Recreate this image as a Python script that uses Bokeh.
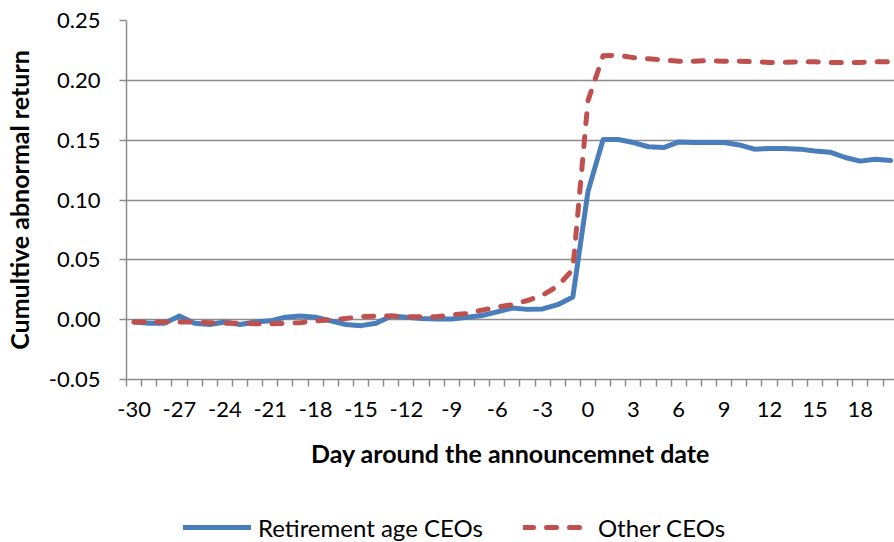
from bokeh.plotting import figure
from bokeh.layouts import column
from bokeh.models import FixedTicker, Legend, LegendItem, Range1d
from bokeh.embed import file_html
from bokeh.resources import INLINE

# ---- data ----
days = list(range(-30, 21))
retirement_age_ceos = [
    -0.002, -0.003, -0.003, 0.003, -0.003, -0.004, -0.002, -0.004, -0.002, -0.001,
    0.002, 0.003, 0.002, -0.001, -0.004, -0.005, -0.003, 0.003, 0.002, 0.001,
    0.0005, 0.0005, 0.002, 0.0035, 0.0065, 0.0097, 0.0086, 0.009, 0.0125, 0.019,
    0.107,
    0.1505, 0.1505, 0.148, 0.1445, 0.1438, 0.1485, 0.148, 0.148, 0.148, 0.146,
    0.1425, 0.143, 0.143, 0.1425, 0.141, 0.140, 0.1355, 0.1325, 0.134, 0.133,
]
other_ceos = [
    -0.002, -0.002, -0.002, -0.002, -0.002, -0.0025, -0.003, -0.003, -0.0035, -0.0035,
    -0.003, -0.0025, -0.001, 0.000, 0.001, 0.0025, 0.003, 0.003, 0.0025, 0.0025,
    0.0025, 0.004, 0.005, 0.008, 0.0105, 0.0125, 0.016, 0.0205, 0.028, 0.042,
    0.183,
    0.2205, 0.221, 0.219, 0.218, 0.217, 0.216, 0.216, 0.2165, 0.216, 0.216,
    0.2155, 0.215, 0.215, 0.2155, 0.2155, 0.215, 0.215, 0.215, 0.2155, 0.2155,
]
x_tick_values = [-30, -27, -24, -21, -18, -15, -12, -9, -6, -3, 0, 3, 6, 9, 12, 15, 18]
x_tick_labels = ["-30", "-27", "-24", "-21", "-18", "-15", "-12", "-9", "-6", "-3",
                 "0", "3", "6", "9", "12", "15", "18"]
y_tick_values = [-0.05, 0, 0.05, 0.1, 0.15, 0.2, 0.25]
y_tick_labels = ["-0.05", "0.00", "0.05", "0.10", "0.15", "0.20", "0.25"]
series_names = ["Retirement age CEOs", "Other CEOs"]
x_title = "Day around the announcemnet date"
y_title = "Cumultive abnormal return"

# category boundaries (tick marks between days)
x_boundaries = [d - 0.5 for d in days] + [days[-1] + 0.5]

FONT = "Lato"
GRID = "#8c8c8c"
BLUE = "#4A7EBB"
RED = "#C0504D"
RED_DASH = "10 13"

p = figure(width=894, height=482, output_backend="svg", toolbar_location=None,
           x_range=Range1d(-30.5, 20.26), y_range=Range1d(-0.05, 0.25),
           min_border_left=126, min_border_right=0, min_border_top=20,
           min_border_bottom=103)
p.outline_line_color = None
p.background_fill_color = "white"
p.border_fill_color = "white"

# grid
p.xgrid.visible = False
yticker = FixedTicker(ticks=y_tick_values)
p.ygrid.ticker = yticker
p.ygrid.grid_line_color = GRID
p.ygrid.grid_line_width = 1.5

# y axis
p.yaxis.ticker = yticker
p.yaxis.major_label_overrides = dict(zip(y_tick_values, y_tick_labels))
p.yaxis.axis_line_color = GRID
p.yaxis.axis_line_width = 1.5
p.yaxis.major_tick_line_color = GRID
p.yaxis.major_tick_line_width = 1.5
p.yaxis.major_tick_out = 7
p.yaxis.major_tick_in = 0
p.yaxis.minor_tick_line_color = None
p.yaxis.major_label_standoff = 19
p.yaxis.major_label_text_font = FONT
p.yaxis.major_label_text_font_size = "22px"
p.yaxis.major_label_text_color = "black"
p.yaxis.axis_label = y_title
p.yaxis.axis_label_text_font = FONT
p.yaxis.axis_label_text_font_style = "bold"
p.yaxis.axis_label_text_font_size = "25px"
p.yaxis.axis_label_text_color = "black"
p.yaxis.axis_label_standoff = 12

# x axis
xticker = FixedTicker(ticks=x_tick_values, minor_ticks=x_boundaries)
p.xaxis.ticker = xticker
p.xaxis.major_label_overrides = dict(zip(x_tick_values, x_tick_labels))
p.xaxis.axis_line_color = GRID
p.xaxis.axis_line_width = 1.5
p.xaxis.major_tick_line_color = None
p.xaxis.major_tick_out = 0
p.xaxis.major_tick_in = 0
p.xaxis.minor_tick_line_color = GRID
p.xaxis.minor_tick_line_width = 1.5
p.xaxis.minor_tick_out = 7
p.xaxis.minor_tick_in = 0
p.xaxis.major_label_standoff = 15
p.xaxis.major_label_text_font = FONT
p.xaxis.major_label_text_font_size = "22px"
p.xaxis.major_label_text_color = "black"
p.xaxis.axis_label = x_title
p.xaxis.axis_label_text_font = FONT
p.xaxis.axis_label_text_font_style = "bold"
p.xaxis.axis_label_text_font_size = "25px"
p.xaxis.axis_label_text_color = "black"
p.xaxis.axis_label_standoff = 18

# lines
p.line(days, retirement_age_ceos, line_color=BLUE, line_width=5,
       line_join="round", line_cap="round")
p.line(days, other_ceos, line_color=RED, line_width=5,
       line_dash=RED_DASH, line_join="round", line_cap="round")

# ---- legend strip below the chart ----
q = figure(width=894, height=60, output_backend="svg", toolbar_location=None,
           x_axis_location=None, y_axis_location=None,
           x_range=Range1d(-30.5, 20.26), y_range=Range1d(1, 2),
           min_border=0)
q.outline_line_color = None
q.xgrid.visible = False
q.ygrid.visible = False
# same series (outside this strip's view) so the legend shows their line styles
l1 = q.line(days, retirement_age_ceos, line_color=BLUE, line_width=5,
            line_join="round", line_cap="round")
l2 = q.line(days, other_ceos, line_color=RED, line_width=5,
            line_dash=RED_DASH, line_join="round", line_cap="round")

legend = Legend(items=[LegendItem(label=series_names[0], renderers=[l1]),
                       LegendItem(label=series_names[1], renderers=[l2])],
                orientation="horizontal", location=(57, 0),
                border_line_color=None, background_fill_alpha=0,
                padding=0, margin=0, spacing=40, glyph_width=68,
                glyph_height=30, label_height=30, label_standoff=7,
                label_text_font=FONT, label_text_font_size="24px",
                label_text_color="black")
q.add_layout(legend)

layout = column(p, q, spacing=0)
open("out.html", "w").write(file_html(layout, INLINE))
